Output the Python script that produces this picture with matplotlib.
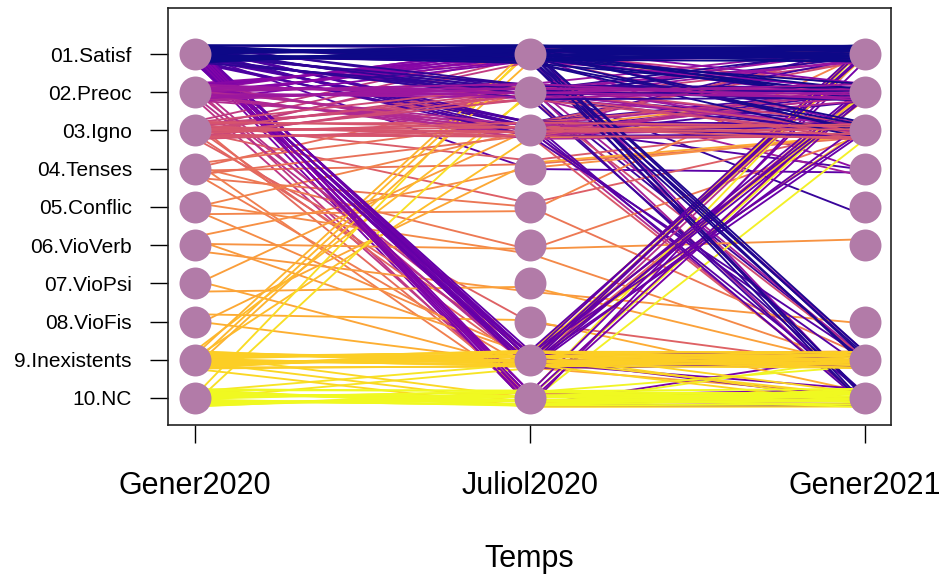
import numpy as np
import matplotlib
matplotlib.use("Agg")
import matplotlib.pyplot as plt

plt.rcParams['font.family'] = ['Liberation Sans', 'DejaVu Sans']

categories = ["01.Satisf", "02.Preoc", "03.Igno", "04.Tenses", "05.Conflic",
              "06.VioVerb", "07.VioPsi", "08.VioFis", "9.Inexistents", "10.NC"]
times = ["Gener2020", "Juliol2020", "Gener2021"]

# Trajectory patterns: category code (1-10) at each wave, and number of people
g2020 = [1] * 27 + [2] * 20 + [3] * 17 + [4] * 7 + [5] * 4 + [6] * 4 + [7] * 3 + [8] * 3 + [9] * 10 + [10] * 8
j2020 = [1, 1, 1, 1, 1, 2, 2, 2, 2, 2, 2, 3, 3, 3, 3, 3, 3, 4, 9, 9, 9, 9, 9, 10, 10, 10, 10,
         1, 1, 1, 1, 1, 1, 2, 2, 2, 2, 2, 2, 3, 3, 3, 3, 9, 9, 10, 10,
         1, 1, 1, 2, 2, 2, 2, 3, 3, 3, 3, 4, 5, 8, 9, 9, 10,
         2, 3, 4, 5, 6, 9, 10,
         3, 5, 6, 9,
         4, 6, 7, 9,
         3, 7, 9,
         4, 8, 9,
         1, 1, 2, 3, 9, 9, 9, 9, 9, 10,
         1, 2, 9, 10, 10, 10, 10, 10]
g2021 = [1, 2, 3, 9, 10, 1, 2, 3, 5, 9, 10, 1, 2, 3, 4, 9, 10, 4, 1, 2, 3, 9, 10, 1, 2, 9, 10,
         1, 2, 3, 4, 9, 10, 1, 2, 3, 4, 9, 10, 1, 2, 3, 10, 1, 9, 2, 10,
         1, 2, 3, 1, 2, 3, 9, 1, 2, 3, 10, 3, 3, 9, 2, 9, 10,
         2, 3, 3, 9, 3, 9, 10,
         3, 1, 9, 9,
         3, 6, 8, 9,
         2, 9, 10,
         3, 10, 9,
         1, 2, 2, 3, 1, 2, 3, 9, 10, 10,
         1, 2, 9, 1, 2, 3, 9, 10]
n_people = [22, 6, 5, 5, 4, 3, 5, 3, 1, 1, 2, 2, 3, 4, 1, 2, 2, 1, 4, 4, 3, 4, 2, 2, 2, 1, 4,
            4, 4, 2, 1, 1, 1, 4, 6, 4, 1, 1, 1, 1, 4, 3, 1, 2, 1, 1, 1,
            2, 1, 1, 1, 3, 4, 1, 2, 3, 6, 1, 1, 1, 1, 1, 1, 1,
            1, 2, 1, 1, 1, 1, 1,
            1, 1, 1, 1,
            1, 1, 1, 1,
            1, 1, 1,
            1, 1, 1,
            2, 1, 1, 1, 3, 2, 1, 20, 4, 3,
            1, 1, 2, 1, 1, 1, 2, 20]

point_color = "#B27BA8"
ncat = len(categories)

def ypos(code):
    return ncat + 1 - code

groups = sorted(zip(g2020, j2020, g2021, n_people))
G = len(groups)
cmap = plt.get_cmap("plasma")

fig = plt.figure(figsize=(9.41, 5.78), dpi=100)
ax = fig.add_axes([168 / 941, (578 - 425) / 578, 723 / 941, 417 / 578])

xs = np.array([1, 2, 3])
mults = [0.6180339887, 0.7548776662, 0.5698402910]
amp = 0.24
person = 0
for gi, (a, b, c, n) in enumerate(groups):
    col = cmap(gi / (G - 1))
    for _ in range(n):
        person += 1
        ys = []
        for t, code in enumerate((a, b, c)):
            u = (person * mults[t] + 0.13 * t) % 1.0
            ys.append(ypos(code) + (2 * u - 1) * amp)
        ax.plot(xs, ys, color=col, lw=1.35, solid_capstyle="butt",
                zorder=2 + n / 100 + gi / 1e5)

for t, vals in enumerate([g2020, j2020, g2021]):
    present = sorted(set(vals))
    ax.plot([t + 1] * len(present), [ypos(c) for c in present], 'o',
            ms=23, color=point_color, mec="none", zorder=5)

ax.set_xlim(1 - 27 / 335, 3 + 26 / 335)
ax.set_ylim(1 - 27 / 38.22, ncat + 46 / 38.22)
ax.set_xticks([1, 2, 3])
ax.set_xticklabels(times, fontsize=22)
ax.set_yticks([ypos(k + 1) for k in range(ncat)])
ax.set_yticklabels(categories, fontsize=15)
ax.tick_params(axis='x', length=13, width=1, pad=20)
ax.tick_params(axis='y', length=13, width=1, pad=13)
ax.set_xlabel("Temps", fontsize=22, labelpad=31)
for s in ax.spines.values():
    s.set_linewidth(1.2)
    s.set_color("#222222")

fig.savefig("out.png", dpi=100)
